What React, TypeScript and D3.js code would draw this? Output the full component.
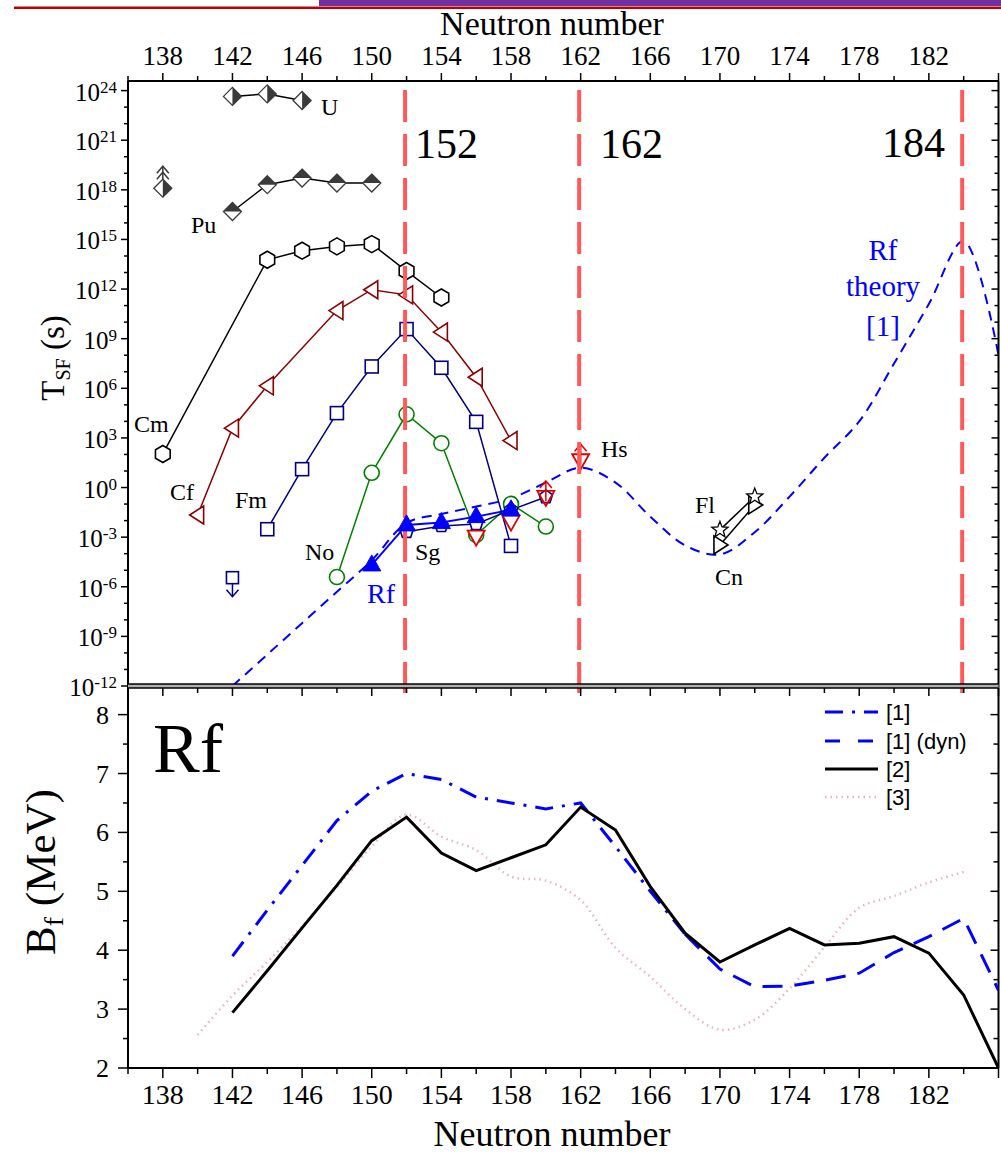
import React from 'react';
import * as d3 from 'd3';

const SERIF = "'Liberation Serif','Times New Roman',serif";
const SANS = "'Liberation Sans',Arial,sans-serif";

// ---------- Top panel: log10(T_SF / s) ----------
const uN = [142, 144, 146];
const uLogT = [23.65, 23.8, 23.4];
const uLimN = 138;
const uLimLogT = 18.1;
const puN = [142, 144, 146, 148, 150];
const puLogT = [16.69, 18.31, 18.71, 18.41, 18.41];
const cmN = [138, 144, 146, 148, 150, 152, 154];
const cmLogT = [2.03, 13.77, 14.32, 14.58, 14.72, 13.09, 11.49];
const cfN = [140, 142, 144, 148, 150, 152, 154, 156, 158];
const cfLogT = [-1.66, 3.59, 6.15, 10.7, 11.96, 11.65, 9.4, 6.67, 2.84];
const fmN = [144, 146, 148, 150, 152, 154, 156, 158];
const fmLogT = [-2.52, 1.11, 4.5, 7.32, 9.58, 7.24, 3.97, -3.53];
const fmLimN = 142;
const fmLimLogT = -5.45;
const noN = [148, 150, 152, 154, 156, 158, 160];
const noLogT = [-5.41, 0.89, 4.43, 2.68, -2.87, -0.99, -2.36];
const sgN = [152, 154, 156, 158, 160];
const sgLogT = [-2.67, -2.32, -2.2, -1.35, -0.57];
const rfN = [150, 152, 154, 156, 158];
const rfLogT = [-4.68, -2.26, -2.12, -1.76, -1.35];
const hsN = [156, 158];
const hsLogT = [-2.97, -2.06];
const hsLimN = [160, 162];
const hsLimLogT = [-0.57, 1.65];
const cnN = [170, 172];
const cnLogT = [-3.47, -1.05];
const flN = [170, 172];
const flLogT = [-2.56, -0.55];
const theoryN = [142, 144, 146, 148, 150, 152, 154, 156, 158, 160, 162, 164, 166, 168, 170, 172, 174, 176, 178, 180, 182, 184, 186];
const theoryLogT = [-12, -10.1, -8.2, -6.3, -4.4, -2.15, -1.6, -1.15, -0.65, 0.3, 1.2, 0.3, -1.76, -3.5, -4.05, -2.7, -0.55, 1.8, 4.0, 7.5, 11.1, 14.9, 8.0];
const magicN = [152, 162, 184];
const yExpTicks = [24, 21, 18, 15, 12, 9, 6, 3, 0, -3, -6, -9, -12];

// ---------- Bottom panel: B_f (MeV) ----------
const bf1N = [142, 144, 146, 148, 150, 152, 154, 156, 158, 160, 162, 164, 166, 168];
const bf1 = [3.9, 4.68, 5.44, 6.2, 6.7, 7.0, 6.9, 6.6, 6.5, 6.4, 6.5, 5.76, 5.0, 4.27];
const bf1dynN = [168, 170, 172, 174, 176, 178, 180, 182, 184, 186];
const bf1dyn = [4.27, 3.68, 3.38, 3.39, 3.49, 3.61, 3.96, 4.23, 4.54, 3.32];
const bf2N = [142, 144, 146, 148, 150, 152, 154, 156, 158, 160, 162, 164, 166, 168, 170, 172, 174, 176, 178, 180, 182, 184, 186];
const bf2 = [2.94, 3.65, 4.38, 5.1, 5.86, 6.26, 5.65, 5.35, 5.57, 5.79, 6.43, 6.04, 5.08, 4.29, 3.8, 4.09, 4.37, 4.09, 4.12, 4.23, 3.95, 3.24, 2.0];
const bf3N = [140, 142, 144, 146, 148, 150, 152, 154, 156, 158, 160, 162, 164, 166, 168, 170, 172, 174, 176, 178, 180, 182, 184];
const bf3 = [2.56, 3.23, 3.8, 4.41, 5.07, 5.76, 6.3, 5.93, 5.7, 5.25, 5.18, 4.85, 4.04, 3.55, 3.0, 2.65, 2.82, 3.35, 4.05, 4.72, 4.92, 5.15, 5.33];
const bTicks = [2, 3, 4, 5, 6, 7, 8];
const legendLabels = ['[1]', '[1] (dyn)', '[2]', '[3]'];

const xTickVals = d3.range(136, 187, 2);
const xLabelVals = d3.range(138, 183, 4);

const C = {
  gray: '#3a3a3a', cf: '#8b0000', fm: '#000080', no: '#008000', rf: '#0000ff',
  hs: '#e00000', magic: '#ff5a5a', pink: '#eab6bb',
};

export default function App() {
  const x = d3.scaleLinear().domain([136, 186]).range([128, 998.5]);
  const yT = d3.scaleLog().domain([1e-12, Math.pow(10, 24.58)]).range([686, 81]);
  const yB = d3.scaleLinear().domain([2, 8.486]).range([1068, 686]);
  const L = x(136), R = x(186);
  const topY = 81, midY = 686, botY = 1068;

  const pt = (n: number, v: number): [number, number] => [x(n), yT(Math.pow(10, v))];
  const pts = (ns: number[], vs: number[]) => ns.map((n, i) => pt(n, vs[i]));
  const bpts = (ns: number[], vs: number[]) => ns.map((n, i) => [x(n), yB(vs[i])] as [number, number]);
  const line = d3.line<[number, number]>();
  const smooth = d3.line<[number, number]>().curve(d3.curveCatmullRom.alpha(0.5));

  const hexagon = (cx: number, cy: number, r = 8.5) =>
    d3.range(6).map(k => { const a = (-90 + 60 * k) * Math.PI / 180; return `${cx + r * Math.cos(a)},${cy + r * Math.sin(a)}`; }).join(' ');
  const pentagon = (cx: number, cy: number, r = 7) =>
    d3.range(5).map(k => { const a = (-90 + 72 * k) * Math.PI / 180; return `${cx + r * Math.cos(a)},${cy + r * Math.sin(a)}`; }).join(' ');
  const star = (cx: number, cy: number, ro = 8.5, ri = 3.6) =>
    d3.range(10).map(k => { const a = (-90 + 36 * k) * Math.PI / 180; const r = k % 2 ? ri : ro; return `${cx + r * Math.cos(a)},${cy + r * Math.sin(a)}`; }).join(' ');

  const halfDiamond = (cx: number, cy: number, half: 'right' | 'top', key: string, r = 9) => {
    const outline = `M${cx},${cy - r}L${cx + r},${cy}L${cx},${cy + r}L${cx - r},${cy}Z`;
    const fill = half === 'right'
      ? `M${cx},${cy - r}L${cx + r},${cy}L${cx},${cy + r}Z`
      : `M${cx - r},${cy}L${cx},${cy - r}L${cx + r},${cy}Z`;
    return (
      <g key={key}>
        <path d={outline} fill="white" stroke={C.gray} strokeWidth={1.3} />
        <path d={fill} fill={C.gray} />
      </g>
    );
  };

  const arrow = (cx: number, y0: number, y1: number, color: string, key: string) => {
    const dir = y1 < y0 ? 1 : -1;
    return (
      <g key={key} stroke={color} strokeWidth={1.5} fill="none">
        <line x1={cx} y1={y0} x2={cx} y2={y1} />
        <polyline points={`${cx - 6},${y1 + dir * 7} ${cx},${y1} ${cx + 6},${y1 + dir * 7}`} />
      </g>
    );
  };

  const tri = (cx: number, cy: number, kind: 'left' | 'right' | 'up' | 'down') => {
    if (kind === 'left') return `${cx - 8},${cy} ${cx + 6},${cy - 9} ${cx + 6},${cy + 9}`;
    if (kind === 'right') return `${cx + 8},${cy} ${cx - 6},${cy - 9} ${cx - 6},${cy + 9}`;
    if (kind === 'up') return `${cx},${cy - 10} ${cx + 9},${cy + 6} ${cx - 9},${cy + 6}`;
    return `${cx},${cy + 9} ${cx + 8.5},${cy - 6} ${cx - 8.5},${cy - 6}`;
  };

  const lnStyle = { fill: 'none', strokeWidth: 1.5 };
  const uPts = pts(uN, uLogT), puPts = pts(puN, puLogT), cmPts = pts(cmN, cmLogT), cfPts = pts(cfN, cfLogT);
  const fmPts = pts(fmN, fmLogT), noPts = pts(noN, noLogT), sgPts = pts(sgN, sgLogT), rfPts = pts(rfN, rfLogT);
  const hsPts = pts(hsN, hsLogT), hsLimPts = pts(hsLimN, hsLimLogT), cnPts = pts(cnN, cnLogT), flPts = pts(flN, flLogT);
  const uLim = pt(uLimN, uLimLogT), fmLim = pt(fmLimN, fmLimLogT);

  const decades = d3.range(-12, 25);
  const bMinor = d3.range(2, 8.01, 0.5);

  const legendY = [712, 741, 769, 797];
  const legendStyles = [
    { stroke: C.rf, dash: '18,9,3,9', w: 3 },
    { stroke: C.rf, dash: '15,18', w: 3 },
    { stroke: '#000', dash: undefined, w: 3 },
    { stroke: C.pink, dash: '1.5,4', w: 2.5 },
  ];

  return (
    <svg width={1001} height={1155} style={{ position: 'absolute', left: 0, top: 0, background: 'white' }} fontFamily={SERIF}>
      <defs>
        <clipPath id="clipTop"><rect x={L} y={topY} width={R - L} height={midY - topY} /></clipPath>
        <clipPath id="clipBot"><rect x={L} y={midY} width={R - L} height={botY - midY} /></clipPath>
      </defs>
      {/* header bars */}
      <rect x={319} y={0} width={682} height={6} fill="#7030a0" />
      <rect x={14} y={6.5} width={987} height={2.5} fill="#c00000" />

      {/* top axis title and labels */}
      <text x={552} y={35} fontSize={34} textAnchor="middle">Neutron number</text>
      {xLabelVals.map(n => <text key={'tl' + n} x={x(n)} y={65} fontSize={27} textAnchor="middle">{n}</text>)}
      {xTickVals.map(n => {
        const major = (n - 138) % 4 === 0;
        return <line key={'tt' + n} x1={x(n)} x2={x(n)} y1={topY} y2={topY - (major ? 8 : 5)} stroke="#000" strokeWidth={1.5} />;
      })}

      {/* top panel y ticks */}
      {decades.map(d => {
        const major = d % 3 === 0;
        const yy = yT(Math.pow(10, d));
        return (
          <g key={'yd' + d} stroke="#000" strokeWidth={1.5}>
            <line x1={L} x2={L - (major ? 7 : 4)} y1={yy} y2={yy} />
            <line x1={R} x2={R - (major ? 7 : 4)} y1={yy} y2={yy} />
          </g>
        );
      })}
      {yExpTicks.map(e => {
        const yy = yT(Math.pow(10, e));
        return (
          <text key={'yl' + e} x={117} y={yy + 10} textAnchor="end" fontSize={25}>
            10<tspan fontSize={17} dy={-8}>{e < 0 ? '-' + Math.abs(e) : String(e)}</tspan>
          </text>
        );
      })}
      <text transform="translate(64,358) rotate(-90)" fontSize={33} textAnchor="middle">
        T<tspan fontSize={20} dy={6}>SF</tspan><tspan dy={-6}> (s)</tspan>
      </text>

      {/* top panel data */}
      <g clipPath="url(#clipTop)">
        <path d={smooth(pts(theoryN, theoryLogT)) || ''} stroke={C.rf} strokeWidth={2} fill="none" strokeDasharray="10,7" />
        <path d={line(uPts) || ''} stroke="#000" {...lnStyle} />
        <path d={line(puPts) || ''} stroke="#000" {...lnStyle} />
        <path d={line(cmPts) || ''} stroke="#000" {...lnStyle} />
        <path d={line(cfPts) || ''} stroke={C.cf} {...lnStyle} />
        <path d={line(fmPts) || ''} stroke={C.fm} {...lnStyle} />
        <path d={line(noPts) || ''} stroke={C.no} {...lnStyle} />
        <path d={line(sgPts) || ''} stroke={C.fm} {...lnStyle} />
        <path d={line(rfPts) || ''} stroke={C.rf} fill="none" strokeWidth={2} />
        <path d={line(cnPts) || ''} stroke="#000" {...lnStyle} />
        <path d={line(flPts) || ''} stroke="#000" {...lnStyle} />

        {uPts.map((p, i) => halfDiamond(p[0], p[1], 'right', 'u' + i))}
        {arrow(uLim[0], uLim[1] - 9, uLim[1] - 22, C.gray, 'ular')}
        {arrow(uLim[0], uLim[1] - 14, uLim[1] - 16, C.gray, 'ular2')}
        {halfDiamond(uLim[0], uLim[1], 'right', 'ulim')}
        {puPts.map((p, i) => halfDiamond(p[0], p[1], 'top', 'pu' + i))}
        {cmPts.map((p, i) => <polygon key={'cm' + i} points={hexagon(p[0], p[1])} fill="white" stroke="#000" strokeWidth={1.6} />)}
        {cfPts.map((p, i) => <polygon key={'cf' + i} points={tri(p[0], p[1], 'left')} fill="white" stroke={C.cf} strokeWidth={1.6} />)}
        {fmPts.map((p, i) => <rect key={'fm' + i} x={p[0] - 6.5} y={p[1] - 6.5} width={13} height={13} fill="white" stroke={C.fm} strokeWidth={1.6} />)}
        {arrow(fmLim[0], fmLim[1] + 6, fmLim[1] + 19, C.fm, 'fmar')}
        <rect x={fmLim[0] - 6} y={fmLim[1] - 6} width={12} height={12} fill="white" stroke={C.fm} strokeWidth={1.6} />
        {noPts.map((p, i) => <circle key={'no' + i} cx={p[0]} cy={p[1]} r={7.5} fill="white" stroke={C.no} strokeWidth={1.6} />)}
        {sgPts.map((p, i) => <polygon key={'sg' + i} points={pentagon(p[0], p[1])} fill="white" stroke={C.fm} strokeWidth={1.6} />)}
        {hsPts.map((p, i) => <polygon key={'hs' + i} points={tri(p[0], p[1], 'down')} fill="white" stroke={C.hs} strokeWidth={1.8} />)}
        {hsLimPts.map((p, i) => (
          <g key={'hsl' + i}>
            <polygon points={tri(p[0], p[1], 'down')} fill="none" stroke={C.hs} strokeWidth={1.8} />
            {arrow(p[0], p[1] + 4, p[1] - 16, C.hs, 'hsa' + i)}
          </g>
        ))}
        {cnPts.map((p, i) => <polygon key={'cn' + i} points={tri(p[0], p[1], 'right')} fill="white" stroke="#000" strokeWidth={1.6} />)}
        {flPts.map((p, i) => <polygon key={'fl' + i} points={star(p[0], p[1])} fill="white" stroke="#000" strokeWidth={1.3} />)}
      </g>

      {/* magic number lines */}
      {magicN.map(n => (
        <line key={'mg' + n} x1={x(n) - 1.5} x2={x(n) - 1.5} y1={90} y2={693} stroke={C.magic} strokeWidth={4} strokeDasharray="32,12" />
      ))}
      <g clipPath="url(#clipTop)">
        {rfPts.map((p, i) => <polygon key={'rf' + i} points={tri(p[0], p[1], 'up')} fill={C.rf} stroke={C.rf} strokeWidth={1} />)}
      </g>

      {/* top panel texts */}
      <text x={415} y={158} fontSize={42}>152</text>
      <text x={600} y={158} fontSize={42}>162</text>
      <text x={882} y={157} fontSize={42}>184</text>
      <g fill={C.rf} fontSize={29} textAnchor="middle">
        <text x={883} y={260}>Rf</text>
        <text x={883} y={296}>theory</text>
        <text x={883} y={336}>[1]</text>
      </g>
      <g fontSize={24}>
        <text x={321} y={115}>U</text>
        <text x={191} y={233}>Pu</text>
        <text x={134} y={432}>Cm</text>
        <text x={170} y={500}>Cf</text>
        <text x={235} y={508}>Fm</text>
        <text x={305} y={560}>No</text>
        <text x={415} y={560}>Sg</text>
        <text x={601} y={457}>Hs</text>
        <text x={695} y={513}>Fl</text>
        <text x={715} y={585}>Cn</text>
      </g>
      <text x={367} y={603} fontSize={28} fill={C.rf}>Rf</text>

      {/* top panel frame */}
      <g stroke="#000" strokeWidth={2} fill="none">
        <line x1={L} x2={R} y1={topY} y2={topY} />
        <line x1={L} x2={L} y1={topY} y2={botY} />
        <line x1={R} x2={R} y1={topY} y2={botY} />
      </g>
      <rect x={L} y={684} width={R - L} height={4} fill="#b0b0b0" />
      <line x1={L} x2={R} y1={684} y2={684} stroke="#000" strokeWidth={1.5} />
      <line x1={L} x2={R} y1={688} y2={688} stroke="#000" strokeWidth={1.5} />

      {/* bottom panel ticks */}
      {xTickVals.map(n => {
        const major = (n - 138) % 4 === 0;
        return (
          <g key={'bt' + n} stroke="#000" strokeWidth={1.5}>
            <line x1={x(n)} x2={x(n)} y1={688} y2={688 + (major ? 8 : 5)} />
            <line x1={x(n)} x2={x(n)} y1={botY} y2={botY + (major ? 10 : 6)} />
          </g>
        );
      })}
      {bMinor.map(v => {
        const major = Math.abs(v - Math.round(v)) < 1e-6;
        return (
          <g key={'by' + v} stroke="#000" strokeWidth={1.5}>
            <line x1={L} x2={L - (major ? 10 : 5)} y1={yB(v)} y2={yB(v)} />
            <line x1={R} x2={R - (major ? 8 : 5)} y1={yB(v)} y2={yB(v)} />
          </g>
        );
      })}
      {bTicks.map(v => <text key={'byl' + v} x={109} y={yB(v) + 9} fontSize={26} textAnchor="end">{v}</text>)}
      {xLabelVals.map(n => <text key={'bl' + n} x={x(n)} y={1104} fontSize={28} textAnchor="middle">{n}</text>)}
      <text x={552} y={1146} fontSize={36} textAnchor="middle">Neutron number</text>
      <text transform="translate(55,872) rotate(-90)" fontSize={43} textAnchor="middle">
        B<tspan fontSize={28} dy={8}>f</tspan><tspan dy={-8}> (MeV)</tspan>
      </text>
      <line x1={L} x2={R} y1={botY} y2={botY} stroke="#000" strokeWidth={2} />

      {/* bottom panel data */}
      <g clipPath="url(#clipBot)">
        <path d={smooth(bpts(bf3N, bf3)) || ''} stroke={C.pink} strokeWidth={2.5} fill="none" strokeDasharray="1.5,4" />
        <path d={line(bpts(bf1N, bf1)) || ''} stroke={C.rf} strokeWidth={3} fill="none" strokeDasharray="18,9,3,9" />
        <path d={line(bpts(bf1dynN, bf1dyn)) || ''} stroke={C.rf} strokeWidth={3} fill="none" strokeDasharray="20,12" />
        <path d={line(bpts(bf2N, bf2)) || ''} stroke="#000" strokeWidth={3} fill="none" />
      </g>
      <text x={153} y={772} fontSize={70}>Rf</text>

      {/* legend */}
      {legendLabels.map((lab, i) => (
        <g key={'lg' + i}>
          <line x1={825} x2={878} y1={legendY[i]} y2={legendY[i]} stroke={legendStyles[i].stroke} strokeWidth={legendStyles[i].w} strokeDasharray={legendStyles[i].dash} />
          <text x={886} y={legendY[i] + 8} fontSize={22} fontFamily={SANS}>{lab}</text>
        </g>
      ))}
    </svg>
  );
}
